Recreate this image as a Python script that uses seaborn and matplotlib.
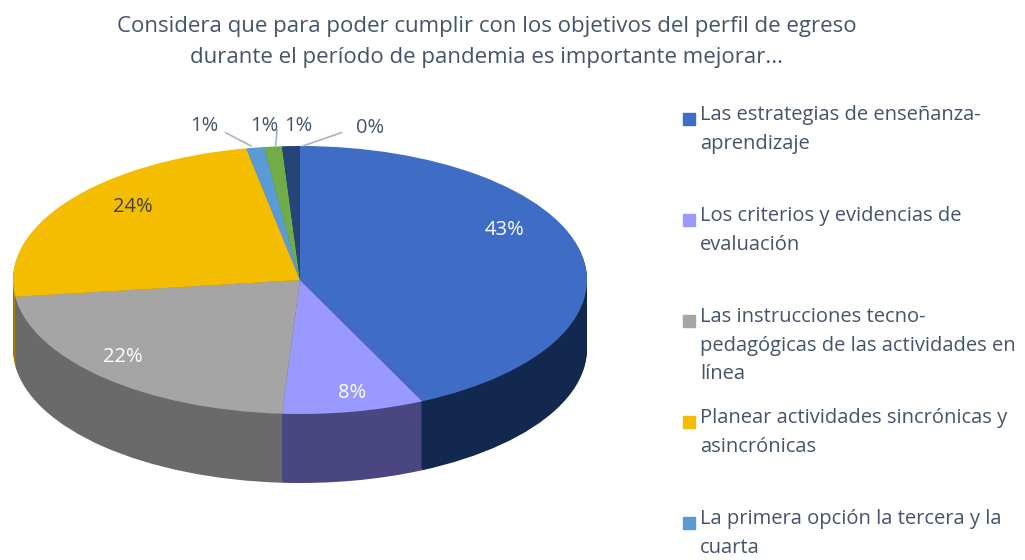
import numpy as np
import seaborn as sns
import matplotlib.pyplot as plt
from matplotlib.patches import Rectangle

# data (clockwise from 12 o'clock)
shares = [43, 8, 22, 24, 1, 1, 1, 0]
pct_text = ["43%", "8%", "22%", "24%", "1%", "1%", "1%", "0%"]
top_colors = ["#3F6DC6", "#9999FF", "#A5A5A5", "#F5BD00",
              "#5B9BD5", "#70AD47", "#264478", "#7A3E10"]
side_colors = ["#13284F", "#4A4682", "#6A6A6A", "#A07C00",
               "#3C6F9E", "#4C7A30", "#16294A", "#4A250A"]
legend_labels = [
    "Las estrategias de enseñanza-\naprendizaje",
    "Los criterios y evidencias de\nevaluación",
    "Las instrucciones tecno-\npedagógicas de las actividades en\nlínea",
    "Planear actividades sincrónicas y\nasincrónicas",
    "La primera opción la tercera y la\ncuarta",
]
title = ("Considera que para poder cumplir con los objetivos del perfil de egreso\n"
         "durante el período de pandemia es importante mejorar...")

# layout: label positions in pie units (x: radius 1 = 287px, y: radius 1 = 134px)
label_xy = [(0.714, 0.373), (0.181, -0.843), (-0.617, -0.575), (-0.582, 0.545),
            (-0.334, 1.149), (-0.125, 1.149), (-0.007, 1.149), (0.244, 1.134)]
label_col = ["white", "white", "white", "#404040",
             "#44546A", "#44546A", "#44546A", "#44546A"]
# leader lines: (start, end) in pie units
leaders = {4: ((-0.26, 1.10), (-0.17, 1.0)),
           5: ((-0.08, 1.12), (-0.085, 1.0)),
           7: ((0.145, 1.10), (0.01, 1.0))}

sns.set_theme(style="white")
plt.rcParams["font.family"] = ["Open Sans", "DejaVu Sans"]

W, H = 1025, 560
fig = plt.figure(figsize=(W / 100, H / 100), dpi=100)
fig.patch.set_facecolor("white")
ax = fig.add_axes([0, 0, 1, 1])

cx, cy, rx, ry = 300, 280, 287, 134
depth = 69 / ry

# side wall: stack of darker pies
for d in np.linspace(depth, 0.005, 45):
    ax.pie(shares, colors=side_colors, startangle=90, counterclock=False,
           center=(0, -d), radius=1, wedgeprops=dict(linewidth=0))

# top face
ax.pie(shares, colors=top_colors, startangle=90, counterclock=False,
       center=(0, 0), radius=1, wedgeprops=dict(linewidth=0))

ax.set_aspect("auto")
ax.set_xlim(-cx / rx, (W - cx) / rx)
ax.set_ylim(-(H - cy) / ry, cy / ry)
ax.axis("off")

for i, t in enumerate(pct_text):
    x, y = label_xy[i]
    ax.text(x, y, t, ha="center", va="center", fontsize=14.5, color=label_col[i])
for (x0, y0), (x1, y1) in leaders.values():
    ax.plot([x0, x1], [y0, y1], color="#A6B4C6", lw=1.2)

fig.text(487 / W, 1 - 42 / H, title, ha="center", va="center", fontsize=16,
         color="#44546A", linespacing=1.65)

# legend, fixed slots like the original
for i, lab in enumerate(legend_labels):
    top = 105 + i * 101
    fig.patches.append(Rectangle((683 / W, 1 - (top + 20) / H), 12 / W, 12 / H,
                                 transform=fig.transFigure, color=top_colors[i]))
    fig.text(700 / W, 1 - top / H, lab, ha="left", va="top", fontsize=14.5,
             color="#44546A", linespacing=1.58)

fig.savefig("out.png", dpi=100)
